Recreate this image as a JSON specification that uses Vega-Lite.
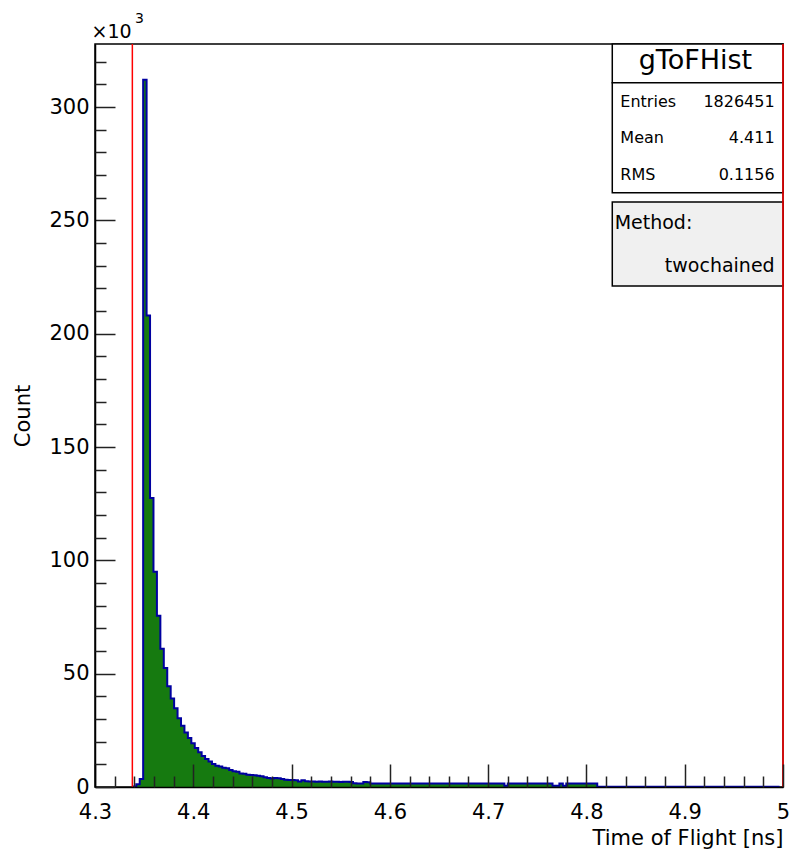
{
  "$schema": "https://vega.github.io/schema/vega-lite/v6.json",
  "width": 688,
  "height": 743,
  "autosize": {"type": "none"},
  "padding": {"left": 95, "top": 44, "right": 8, "bottom": 65},
  "background": "white",
  "config": {"view": {"stroke": "black", "strokeWidth": 1.5}, "font": "DejaVu Sans"},
  "resolve": {"axis": {"x": "independent", "y": "independent"}, "scale": {"x": "shared", "y": "shared"}},
  "datasets": {
    "hist": [
      {"lo":4.3385,"hi":4.342,"n":200},{"lo":4.342,"hi":4.3455,"n":1200},{"lo":4.3455,"hi":4.349,"n":3500},
      {"lo":4.349,"hi":4.3525,"n":312000},{"lo":4.3525,"hi":4.356,"n":208000},{"lo":4.356,"hi":4.3595,"n":127500},
      {"lo":4.3595,"hi":4.363,"n":95000},{"lo":4.363,"hi":4.3665,"n":75500},{"lo":4.3665,"hi":4.37,"n":61000},
      {"lo":4.37,"hi":4.3735,"n":52500},{"lo":4.3735,"hi":4.377,"n":44500},{"lo":4.377,"hi":4.3805,"n":39000},
      {"lo":4.3805,"hi":4.384,"n":34700},{"lo":4.384,"hi":4.3875,"n":30300},{"lo":4.3875,"hi":4.391,"n":27000},
      {"lo":4.391,"hi":4.3945,"n":24000},{"lo":4.3945,"hi":4.398,"n":21600},{"lo":4.398,"hi":4.4015,"n":19300},
      {"lo":4.4015,"hi":4.405,"n":17200},{"lo":4.405,"hi":4.4085,"n":15300},{"lo":4.4085,"hi":4.412,"n":13700},
      {"lo":4.412,"hi":4.4155,"n":12400},{"lo":4.4155,"hi":4.419,"n":11200},{"lo":4.419,"hi":4.4225,"n":10100},
      {"lo":4.4225,"hi":4.426,"n":9400},{"lo":4.426,"hi":4.4295,"n":9000},{"lo":4.4295,"hi":4.433,"n":8500},
      {"lo":4.433,"hi":4.4365,"n":8300},{"lo":4.4365,"hi":4.44,"n":7500},{"lo":4.44,"hi":4.4435,"n":6900},
      {"lo":4.4435,"hi":4.447,"n":6700},{"lo":4.447,"hi":4.4505,"n":6000},{"lo":4.4505,"hi":4.454,"n":5800},
      {"lo":4.454,"hi":4.4575,"n":5400},{"lo":4.4575,"hi":4.461,"n":5300},{"lo":4.461,"hi":4.4645,"n":5200},
      {"lo":4.4645,"hi":4.468,"n":5000},{"lo":4.468,"hi":4.4715,"n":4700},{"lo":4.4715,"hi":4.475,"n":4300},
      {"lo":4.475,"hi":4.4785,"n":4000},{"lo":4.4785,"hi":4.482,"n":3800},{"lo":4.482,"hi":4.4855,"n":4000},
      {"lo":4.4855,"hi":4.489,"n":3900},{"lo":4.489,"hi":4.4925,"n":3500},{"lo":4.4925,"hi":4.496,"n":3200},
      {"lo":4.496,"hi":4.4995,"n":3100},{"lo":4.4995,"hi":4.503,"n":3100},{"lo":4.503,"hi":4.5065,"n":3000},
      {"lo":4.5065,"hi":4.51,"n":2400},{"lo":4.51,"hi":4.5135,"n":3000},{"lo":4.5135,"hi":4.517,"n":2500},
      {"lo":4.517,"hi":4.5205,"n":2400},{"lo":4.5205,"hi":4.524,"n":2400},{"lo":4.524,"hi":4.5275,"n":2300},
      {"lo":4.5275,"hi":4.531,"n":2400},{"lo":4.531,"hi":4.5345,"n":2300},{"lo":4.5345,"hi":4.538,"n":2300},
      {"lo":4.538,"hi":4.5415,"n":2400},{"lo":4.5415,"hi":4.545,"n":2300},{"lo":4.545,"hi":4.5485,"n":2300},
      {"lo":4.5485,"hi":4.552,"n":2200},{"lo":4.552,"hi":4.5555,"n":2300},{"lo":4.5555,"hi":4.559,"n":2300},
      {"lo":4.559,"hi":4.5625,"n":2200},{"lo":4.5625,"hi":4.566,"n":1600},{"lo":4.566,"hi":4.5695,"n":1500},
      {"lo":4.5695,"hi":4.573,"n":1500},{"lo":4.573,"hi":4.5765,"n":2200},{"lo":4.5765,"hi":4.58,"n":2100},
      {"lo":4.58,"hi":4.5835,"n":1500},{"lo":4.5835,"hi":4.587,"n":1500},{"lo":4.587,"hi":4.5905,"n":1500},
      {"lo":4.5905,"hi":4.594,"n":1500},{"lo":4.594,"hi":4.5975,"n":1500},{"lo":4.5975,"hi":4.601,"n":1500},
      {"lo":4.601,"hi":4.6045,"n":1500},{"lo":4.6045,"hi":4.608,"n":1500},{"lo":4.608,"hi":4.6115,"n":1500},
      {"lo":4.6115,"hi":4.615,"n":1500},{"lo":4.615,"hi":4.6185,"n":1500},{"lo":4.6185,"hi":4.622,"n":1500},
      {"lo":4.622,"hi":4.6255,"n":1500},{"lo":4.6255,"hi":4.629,"n":1500},{"lo":4.629,"hi":4.6325,"n":1500},
      {"lo":4.6325,"hi":4.636,"n":1500},{"lo":4.636,"hi":4.6395,"n":1500},{"lo":4.6395,"hi":4.643,"n":1500},
      {"lo":4.643,"hi":4.6465,"n":1500},{"lo":4.6465,"hi":4.65,"n":1500},{"lo":4.65,"hi":4.6535,"n":1500},
      {"lo":4.6535,"hi":4.657,"n":1500},{"lo":4.657,"hi":4.6605,"n":1500},{"lo":4.6605,"hi":4.664,"n":1500},
      {"lo":4.664,"hi":4.6675,"n":1500},{"lo":4.6675,"hi":4.671,"n":1500},{"lo":4.671,"hi":4.6745,"n":1500},
      {"lo":4.6745,"hi":4.678,"n":1500},{"lo":4.678,"hi":4.6815,"n":1500},{"lo":4.6815,"hi":4.685,"n":1500},
      {"lo":4.685,"hi":4.6885,"n":1500},{"lo":4.6885,"hi":4.692,"n":1500},{"lo":4.692,"hi":4.6955,"n":1500},
      {"lo":4.6955,"hi":4.699,"n":1500},{"lo":4.699,"hi":4.7025,"n":1500},{"lo":4.7025,"hi":4.706,"n":1500},
      {"lo":4.706,"hi":4.7095,"n":1500},{"lo":4.7095,"hi":4.713,"n":1500},{"lo":4.713,"hi":4.7165,"n":1500},
      {"lo":4.7165,"hi":4.72,"n":600},{"lo":4.72,"hi":4.7235,"n":1500},{"lo":4.7235,"hi":4.727,"n":1500},
      {"lo":4.727,"hi":4.7305,"n":1500},{"lo":4.7305,"hi":4.734,"n":1500},{"lo":4.734,"hi":4.7375,"n":1500},
      {"lo":4.7375,"hi":4.741,"n":1500},{"lo":4.741,"hi":4.7445,"n":1500},{"lo":4.7445,"hi":4.748,"n":1500},
      {"lo":4.748,"hi":4.7515,"n":1500},{"lo":4.7515,"hi":4.755,"n":1500},{"lo":4.755,"hi":4.7585,"n":1500},
      {"lo":4.7585,"hi":4.762,"n":1500},{"lo":4.762,"hi":4.7655,"n":1500},{"lo":4.7655,"hi":4.769,"n":600},
      {"lo":4.769,"hi":4.7725,"n":600},{"lo":4.7725,"hi":4.776,"n":1500},{"lo":4.776,"hi":4.7795,"n":600},
      {"lo":4.7795,"hi":4.783,"n":1500},{"lo":4.783,"hi":4.7865,"n":1500},{"lo":4.7865,"hi":4.79,"n":1500},
      {"lo":4.79,"hi":4.7935,"n":1500},{"lo":4.7935,"hi":4.797,"n":1500},{"lo":4.797,"hi":4.8005,"n":1500},
      {"lo":4.8005,"hi":4.804,"n":1500},{"lo":4.804,"hi":4.8075,"n":1500},{"lo":4.8075,"hi":4.811,"n":1500},
      {"lo":4.811,"hi":4.8145,"n":150},{"lo":4.8145,"hi":4.818,"n":150},{"lo":4.818,"hi":4.8215,"n":150},
      {"lo":4.8215,"hi":4.825,"n":150},{"lo":4.825,"hi":4.8285,"n":150},{"lo":4.8285,"hi":4.832,"n":150},
      {"lo":4.832,"hi":4.8355,"n":150},{"lo":4.8355,"hi":4.839,"n":150},{"lo":4.839,"hi":4.8425,"n":150},
      {"lo":4.8425,"hi":4.846,"n":150},{"lo":4.846,"hi":4.8495,"n":150},{"lo":4.8495,"hi":4.853,"n":150},
      {"lo":4.853,"hi":4.8565,"n":150},{"lo":4.8565,"hi":4.86,"n":150},{"lo":4.86,"hi":4.8635,"n":150},
      {"lo":4.8635,"hi":4.867,"n":150},{"lo":4.867,"hi":4.8705,"n":150},{"lo":4.8705,"hi":4.874,"n":150},
      {"lo":4.874,"hi":4.8775,"n":150},{"lo":4.8775,"hi":4.881,"n":150},{"lo":4.881,"hi":4.8845,"n":150},
      {"lo":4.8845,"hi":4.888,"n":150},{"lo":4.888,"hi":4.8915,"n":150},{"lo":4.8915,"hi":4.895,"n":150},
      {"lo":4.895,"hi":4.8985,"n":150},{"lo":4.8985,"hi":4.902,"n":150},{"lo":4.902,"hi":4.9055,"n":150},
      {"lo":4.9055,"hi":4.909,"n":150},{"lo":4.909,"hi":4.9125,"n":150},{"lo":4.9125,"hi":4.916,"n":150},
      {"lo":4.916,"hi":4.9195,"n":150},{"lo":4.9195,"hi":4.923,"n":150},{"lo":4.923,"hi":4.9265,"n":150},
      {"lo":4.9265,"hi":4.93,"n":150},{"lo":4.93,"hi":4.9335,"n":150},{"lo":4.9335,"hi":4.937,"n":150},
      {"lo":4.937,"hi":4.9405,"n":150},{"lo":4.9405,"hi":4.944,"n":150},{"lo":4.944,"hi":4.9475,"n":150},
      {"lo":4.9475,"hi":4.951,"n":150},{"lo":4.951,"hi":4.9545,"n":150},{"lo":4.9545,"hi":4.958,"n":150},
      {"lo":4.958,"hi":4.9615,"n":150},{"lo":4.9615,"hi":4.965,"n":150},{"lo":4.965,"hi":4.9685,"n":150},
      {"lo":4.9685,"hi":4.972,"n":150},{"lo":4.972,"hi":4.9755,"n":150},{"lo":4.9755,"hi":4.979,"n":150},
      {"lo":4.979,"hi":4.9825,"n":150},{"lo":4.9825,"hi":4.986,"n":150},{"lo":4.986,"hi":4.9895,"n":150},
      {"lo":4.9895,"hi":4.993,"n":150},{"lo":4.993,"hi":4.9965,"n":150},{"lo":4.9965,"hi":5.0,"n":150}
    ],
    "cuts": [{"t": 4.338}, {"t": 5.0}]
  },
  "layer": [
    {
      "data": {"name": "hist"},
      "mark": {"type": "area", "interpolate": "step-after", "color": "#167a10"},
      "encoding": {
        "x": {
          "field": "lo", "type": "quantitative",
          "scale": {"domain": [4.3, 5.0], "nice": false, "zero": false},
          "axis": {
            "orient": "bottom",
            "values": [4.3,4.4,4.5,4.6,4.7,4.8,4.9,5.0],
            "format": ".1~f",
            "labelFlush": false, "labelOverlap": false,
            "labelFont": "DejaVu Sans", "labelFontSize": 21, "labelColor": "black", "labelPadding": 37,
            "tickSize": -23, "tickColor": "#222222", "tickWidth": 1.5,
            "domainColor": "black", "domainWidth": 1.5, "grid": false,
            "title": "Time of Flight [ns]", "titleAnchor": "end", "titleFont": "DejaVu Sans", "titleFontSize": 21,
            "titleFontWeight": "normal", "titleColor": "black", "titlePadding": 5, "zindex": 1
          }
        },
        "y": {
          "field": "n", "type": "quantitative",
          "scale": {"domain": [0, 327800], "nice": false},
          "axis": {
            "orient": "left",
            "values": [0,50000,100000,150000,200000,250000,300000],
            "labelExpr": "format(datum.value/1000, 'd')",
            "labelOverlap": false,
            "labelFont": "DejaVu Sans", "labelFontSize": 21, "labelColor": "black", "labelPadding": 26,
            "tickSize": -20, "tickColor": "#222222", "tickWidth": 1.5,
            "domainColor": "black", "domainWidth": 1.5, "grid": false,
            "title": "Count", "titleFont": "DejaVu Sans", "titleFontSize": 21, "titleFontWeight": "normal",
            "titleColor": "black", "titlePadding": 15, "zindex": 1
          }
        }
      }
    },
    {
      "data": {"name": "hist"},
      "mark": {"type": "line", "interpolate": "step-after", "color": "#0000a0", "strokeWidth": 2},
      "encoding": {
        "x": {
          "field": "lo", "type": "quantitative",
          "axis": {
            "orient": "bottom",
            "values": [4.32,4.34,4.36,4.38,4.42,4.44,4.46,4.48,4.52,4.54,4.56,4.58,4.62,4.64,4.66,4.68,4.72,4.74,4.76,4.78,4.82,4.84,4.86,4.88,4.92,4.94,4.96,4.98],
            "labels": false, "domain": false, "grid": false, "title": null,
            "tickSize": -11, "tickColor": "#222222", "tickWidth": 1.5, "zindex": 1
          }
        },
        "y": {
          "field": "n", "type": "quantitative",
          "axis": {
            "orient": "left",
            "values": [10000,20000,30000,40000,60000,70000,80000,90000,110000,120000,130000,140000,160000,170000,180000,190000,210000,220000,230000,240000,260000,270000,280000,290000,310000,320000],
            "labels": false, "domain": false, "grid": false, "title": null,
            "tickSize": -11, "tickColor": "#222222", "tickWidth": 1.5, "zindex": 1
          }
        }
      }
    },
    {
      "data": {"values": [{}]},
      "mark": {"type": "rect", "fill": "white", "stroke": "black", "strokeWidth": 1.5},
      "encoding": {"x": {"datum": 4.8263, "axis": null}, "x2": {"datum": 5.0}, "y": {"datum": 327800, "axis": null}, "y2": {"datum": 310700}}
    },
    {
      "data": {"values": [{}]},
      "mark": {"type": "rect", "fill": "white", "stroke": "black", "strokeWidth": 1.5},
      "encoding": {"x": {"datum": 4.8263, "axis": null}, "x2": {"datum": 5.0}, "y": {"datum": 310700, "axis": null}, "y2": {"datum": 262200}}
    },
    {
      "data": {"values": [{}]},
      "mark": {"type": "rect", "fill": "#f0f0f0", "stroke": "black", "strokeWidth": 1.5},
      "encoding": {"x": {"datum": 4.8263, "axis": null}, "x2": {"datum": 5.0}, "y": {"datum": 258100, "axis": null}, "y2": {"datum": 221000}}
    },
    {
      "data": {"values": [{}]},
      "mark": {"type": "text", "font": "DejaVu Sans", "fontSize": 27, "align": "center", "baseline": "alphabetic", "color": "black"},
      "encoding": {"x": {"datum": 4.9109, "axis": null}, "y": {"datum": 316600, "axis": null}, "text": {"value": "gToFHist"}}
    },
    {
      "data": {"values": [{}]},
      "mark": {"type": "text", "font": "DejaVu Sans", "fontSize": 16, "align": "left", "baseline": "alphabetic", "color": "black"},
      "encoding": {"x": {"datum": 4.8345, "axis": null}, "y": {"datum": 300100, "axis": null}, "text": {"value": "Entries"}}
    },
    {
      "data": {"values": [{}]},
      "mark": {"type": "text", "font": "DejaVu Sans", "fontSize": 16, "align": "right", "baseline": "alphabetic", "color": "black"},
      "encoding": {"x": {"datum": 4.9915, "axis": null}, "y": {"datum": 300100, "axis": null}, "text": {"value": "1826451"}}
    },
    {
      "data": {"values": [{}]},
      "mark": {"type": "text", "font": "DejaVu Sans", "fontSize": 16, "align": "left", "baseline": "alphabetic", "color": "black"},
      "encoding": {"x": {"datum": 4.8345, "axis": null}, "y": {"datum": 284200, "axis": null}, "text": {"value": "Mean"}}
    },
    {
      "data": {"values": [{}]},
      "mark": {"type": "text", "font": "DejaVu Sans", "fontSize": 16, "align": "right", "baseline": "alphabetic", "color": "black"},
      "encoding": {"x": {"datum": 4.9915, "axis": null}, "y": {"datum": 284200, "axis": null}, "text": {"value": "4.411"}}
    },
    {
      "data": {"values": [{}]},
      "mark": {"type": "text", "font": "DejaVu Sans", "fontSize": 16, "align": "left", "baseline": "alphabetic", "color": "black"},
      "encoding": {"x": {"datum": 4.8345, "axis": null}, "y": {"datum": 267900, "axis": null}, "text": {"value": "RMS"}}
    },
    {
      "data": {"values": [{}]},
      "mark": {"type": "text", "font": "DejaVu Sans", "fontSize": 16, "align": "right", "baseline": "alphabetic", "color": "black"},
      "encoding": {"x": {"datum": 4.9915, "axis": null}, "y": {"datum": 267900, "axis": null}, "text": {"value": "0.1156"}}
    },
    {
      "data": {"values": [{}]},
      "mark": {"type": "text", "font": "DejaVu Sans", "fontSize": 19, "align": "left", "baseline": "alphabetic", "color": "black"},
      "encoding": {"x": {"datum": 4.8287, "axis": null}, "y": {"datum": 246000, "axis": null}, "text": {"value": "Method:"}}
    },
    {
      "data": {"values": [{}]},
      "mark": {"type": "text", "font": "DejaVu Sans", "fontSize": 19, "align": "right", "baseline": "alphabetic", "color": "black"},
      "encoding": {"x": {"datum": 4.9915, "axis": null}, "y": {"datum": 227300, "axis": null}, "text": {"value": "twochained"}}
    },
    {
      "data": {"values": [{}]},
      "mark": {"type": "text", "font": "DejaVu Sans", "fontSize": 19, "align": "left", "baseline": "alphabetic", "color": "black"},
      "encoding": {"x": {"datum": 4.2964, "axis": null}, "y": {"datum": 330400, "axis": null}, "text": {"value": "×10"}}
    },
    {
      "data": {"values": [{}]},
      "mark": {"type": "text", "font": "DejaVu Sans", "fontSize": 14, "align": "left", "baseline": "alphabetic", "color": "black"},
      "encoding": {"x": {"datum": 4.3407, "axis": null}, "y": {"datum": 336900, "axis": null}, "text": {"value": "3"}}
    },
    {
      "data": {"name": "cuts"},
      "mark": {"type": "rule", "color": "#ff0000", "strokeWidth": 1.5},
      "encoding": {"x": {"field": "t", "type": "quantitative", "axis": null}}
    }
  ]
}
